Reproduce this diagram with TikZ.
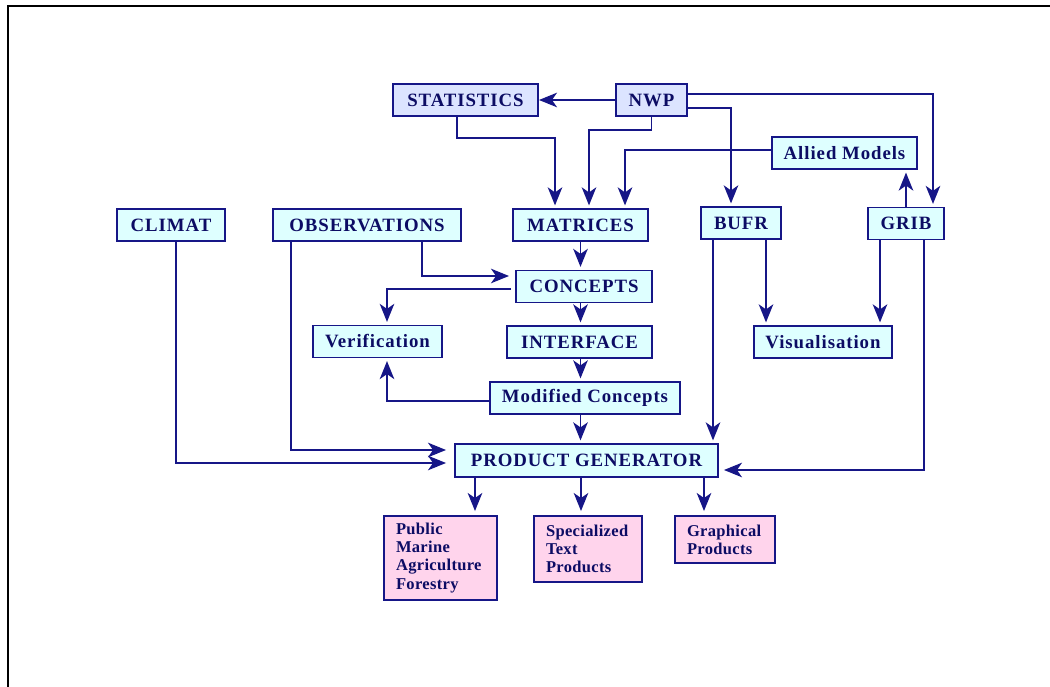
\documentclass[tikz,border=0pt]{standalone}
\usepackage{fontspec}
\setmainfont{Liberation Serif}
\newfontfamily\boxfont[LetterSpace=5]{Liberation Serif}
\newfontfamily\prodfont[LetterSpace=2]{Liberation Serif}
\usetikzlibrary{positioning}
\usetikzlibrary{calc}
\usetikzlibrary{arrows.meta}
\definecolor{navyline}{RGB}{22,22,135}
\definecolor{navytext}{RGB}{12,12,100}
\definecolor{cyanfill}{RGB}{222,255,255}
\definecolor{lavfill}{RGB}{220,228,255}
\definecolor{pinkfill}{RGB}{255,212,236}
\tikzset{>={Stealth[length=3.6mm,width=2.9mm,inset=1mm]}}
\tikzset{box/.style={draw=navyline, line width=1.1pt, fill=cyanfill, text=navytext, inner sep=0pt, minimum height=0.64cm, font=\boxfont\bfseries\fontsize{10.7}{12}\selectfont}}
\tikzset{srcbox/.style={box, fill=lavfill}}
\tikzset{prodbox/.style={draw=navyline, line width=1.1pt, fill=pinkfill, text=navytext, inner xsep=0.24cm, inner ysep=0pt, align=left, font=\prodfont\bfseries\fontsize{9.4}{10.3}\selectfont}}
\tikzset{link/.style={draw=navyline, line width=1.1pt, ->, shorten >=1.5pt}}

\begin{document}
\begin{tikzpicture}
\useasboundingbox (0,0) rectangle (21,13.74);
\draw[black, line width=1.1pt] (0.16,0) -- (0.16,13.62) -- (21,13.62);

\node[srcbox, minimum width=2.9cm] (stat) at (9.31, 11.74) {STATISTICS};
\node[srcbox, minimum width=1.42cm] (nwp) at (13.03, 11.74) {NWP};
\node[box, minimum width=2.9cm] (allied) at (16.89, 10.68) {Allied Models};

\node[box, minimum width=2.16cm] (climat) at (3.42, 9.24) {CLIMAT};
\node[box, minimum width=3.76cm] (obs) at (7.34, 9.24) {OBSERVATIONS};
\node[box, minimum width=2.7cm] (matr) at (11.61, 9.24) {MATRICES};
\node[box, minimum width=1.6cm] (bufr) at (14.82, 9.28) {BUFR};
\node[box, minimum width=1.52cm] (grib) at (18.12, 9.27) {GRIB};

\node[box, minimum width=2.72cm] (conc) at (11.68, 8.01) {CONCEPTS};
\node[box, minimum width=2.58cm] (verif) at (7.55, 6.91) {Verification};
\node[box, minimum width=2.9cm] (interf) at (11.59, 6.90) {INTERFACE};
\node[box, minimum width=2.76cm] (visu) at (16.46, 6.90) {Visualisation};
\node[box, minimum width=3.8cm] (modc) at (11.70, 5.78) {Modified Concepts};
\node[box, minimum width=5.26cm, minimum height=0.66cm] (pg) at (11.73, 4.53) {PRODUCT GENERATOR};

\node[prodbox, text width=1.78cm, minimum height=1.68cm] (pub) at (8.81, 2.58) {Public\\Marine\\Agriculture\\Forestry};
\node[prodbox, text width=1.68cm, minimum height=1.32cm] (spec) at (11.76, 2.76) {Specialized\\Text\\Products};
\node[prodbox, text width=1.52cm, minimum height=0.94cm] (graph) at (14.50, 2.95) {Graphical\\Products};

% inputs to the matrices
\draw[link, shorten >=0pt] (nwp) -- (stat);
\draw[link] ([yshift=0.12cm]nwp.east) -| ([xshift=0.54cm]grib.north);
\draw[link] ([yshift=-0.16cm]nwp.east) -| ([xshift=-0.2cm]bufr.north);
\draw[link] (nwp.south) -- ++(0,-0.26) -| ([xshift=0.17cm]matr.north);
\draw[link] ([xshift=-0.17cm]stat.south) -- ++(0,-0.42) -| ([xshift=-0.51cm]matr.north);
\draw[link] ([yshift=0.06cm]allied.west) -| ([xshift=0.89cm]matr.north);
\draw[link] (grib.north) -- (grib.north |- allied.south);

% main chain
\draw[link] (matr.south) -- (matr.south |- conc.north);
\draw[link] (conc.south -| matr.south) -- (interf.north -| matr.south);
\draw[link] (interf.south -| matr.south) -- (modc.north -| matr.south);
\draw[link] (modc.south -| matr.south) -- (pg.north -| matr.south);

\draw[link, shorten >=0.12cm] ([xshift=1.1cm]obs.south) |- ([yshift=0.21cm]conc.west);
\draw[link, shorten <=0.08cm] ([yshift=-0.05cm]conc.west) -| ([xshift=0.19cm]verif.north);
\draw[link] ([yshift=-0.06cm]modc.west) -| ([xshift=0.19cm]verif.south);

% into the product generator
\draw[link, shorten >=0.16cm] ([xshift=-1.52cm]obs.south) |- ([yshift=0.21cm]pg.west);
\draw[link, shorten >=0.16cm] ([xshift=0.1cm]climat.south) |- ([yshift=-0.05cm]pg.west);
\draw[link] ([xshift=-0.56cm]bufr.south) -- ([xshift=-0.56cm]bufr.south |- pg.north);
\draw[link] ([xshift=0.5cm]bufr.south) -- ([xshift=0.5cm]bufr.south |- visu.north);
\draw[link] ([xshift=-0.52cm]grib.south) -- ([xshift=-0.52cm]grib.south |- visu.north);
\draw[link, shorten >=0.1cm] ([xshift=0.36cm]grib.south) |- ([yshift=-0.19cm]pg.east);

% products
\draw[link, shorten >=0.08cm] ([xshift=-2.23cm]pg.south) -- ([xshift=-2.23cm]pg.south |- pub.north);
\draw[link, shorten >=0.08cm] ([xshift=-0.11cm]pg.south) -- ([xshift=-0.11cm]pg.south |- spec.north);
\draw[link, shorten >=0.08cm] ([xshift=2.35cm]pg.south) -- ([xshift=2.35cm]pg.south |- graph.north);

\end{tikzpicture}
\end{document}
